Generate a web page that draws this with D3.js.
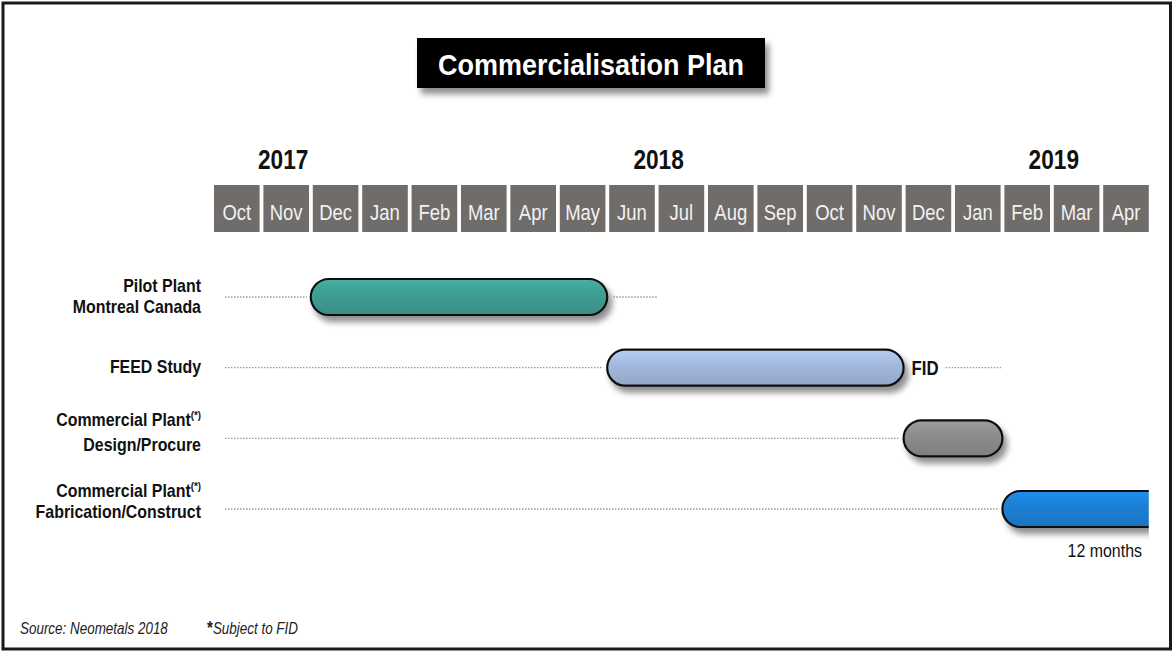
<!DOCTYPE html>
<html>
<head>
<meta charset="utf-8">
<script src="https://cdn.jsdelivr.net/npm/d3@7"></script>
<style>
  html, body { margin: 0; padding: 0; background: #fff; }
  svg { display: block; }
</style>
</head>
<body>
<svg id="chart" width="1174" height="652"></svg>
<script>
// ---------- data ----------
const months = ["Oct","Nov","Dec","Jan","Feb","Mar","Apr","May","Jun","Jul","Aug","Sep","Oct","Nov","Dec","Jan","Feb","Mar","Apr"];
const years = ["2017", "2018", "2019"];
const yearAt = [1.4, 9.0, 17.0];              // month index the year label sits over
const taskLines = [["Pilot Plant", "Montreal Canada"], ["FEED Study"], ["Commercial Plant|(*)", "Design/Procure"], ["Commercial Plant|(*)", "Fabrication/Construct"]];
const taskStart = [2, 8, 14, 16];              // month index (0 = Oct 2017)
const taskEnd   = [8, 14, 16, 28];             // 12 months for fabrication
const taskColors = ["#3f9e93", "#a4b9de", "#8d8d8d", "#1c80d6"];
const milestone = { label: "FID", task: 1 };
const durationNote = { label: "12 months", task: 3 };

// ---------- fonts ----------
function hasFont(name) {
  const c = document.createElement("canvas").getContext("2d");
  const s = "Commercialisation Fabrication 2018";
  c.font = "20px monospace"; const a = c.measureText(s).width;
  c.font = `20px "${name}", monospace`; const b = c.measureText(s).width;
  return Math.abs(a - b) > 0.5;
}
const narrow = hasFont("Liberation Sans Narrow");
const FONT = narrow ? '"Liberation Sans Narrow", "Arial Narrow", sans-serif' : '"Liberation Sans", Arial, sans-serif';
const SX = narrow ? 1 : 0.84;   // horizontal squeeze when no narrow face exists

const svg = d3.select("#chart");
const W = 1174, H = 652;

const defs = svg.append("defs");
const sh = defs.append("filter").attr("id", "shadow").attr("x", "-10%").attr("y", "-30%").attr("width", "130%").attr("height", "200%");
sh.append("feGaussianBlur").attr("in", "SourceAlpha").attr("stdDeviation", 3).attr("result", "b");
sh.append("feOffset").attr("in", "b").attr("dx", 4).attr("dy", 6).attr("result", "o");
sh.append("feComponentTransfer").attr("in", "o").attr("result", "o2")
  .append("feFuncA").attr("type", "linear").attr("slope", 0.45);
const m = sh.append("feMerge");
m.append("feMergeNode").attr("in", "o2");
m.append("feMergeNode").attr("in", "SourceGraphic");

taskColors.forEach((c, i) => {
  const g = defs.append("linearGradient").attr("id", "g" + i).attr("x1", 0).attr("x2", 0).attr("y1", 0).attr("y2", 1);
  g.append("stop").attr("offset", "0%").attr("stop-color", d3.color(c).brighter(0.3));
  g.append("stop").attr("offset", "40%").attr("stop-color", c);
  g.append("stop").attr("offset", "100%").attr("stop-color", d3.color(c).darker(0.3));
});

// ---------- scales ----------
const step = 49.4;
const x0 = 214;
const x = d3.scaleLinear().domain([0, months.length]).range([x0, x0 + months.length * step]);
const boxW = step - 3.8;
const clipRight = x(months.length - 1) + boxW;
const y = d3.scaleLinear().domain([0, 3]).range([297, 509]);
const barH = 36;

defs.append("clipPath").attr("id", "plotclip").append("rect")
  .attr("x", 0).attr("y", 0).attr("width", clipRight).attr("height", H);

// frame
svg.append("rect").attr("x", 3).attr("y", 3).attr("width", W - 6.5).attr("height", H - 6).attr("fill", "none")
  .attr("stroke", "#1a1a1a").attr("stroke-width", 3);

// title
const tg = svg.append("g");
tg.append("rect").attr("x", 417).attr("y", 38).attr("width", 348).attr("height", 50).attr("fill", "#000").attr("filter", "url(#shadow)");
tg.append("text").attr("x", 591).attr("y", 75).attr("text-anchor", "middle").attr("fill", "#fff")
  .attr("font-family", '"Liberation Sans", Arial, sans-serif').attr("font-weight", "bold").attr("font-size", 30)
  .attr("transform", `translate(591,0) scale(0.9,1) translate(-591,0)`)
  .text("Commercialisation Plan");

function sq(sel, ax, s = SX) { // apply horizontal squeeze around anchor x
  if (s !== 1) sel.attr("transform", `translate(${ax},0) scale(${s},1) translate(${-ax},0)`);
  return sel;
}

// years
years.forEach((yr, i) => {
  const cx = x(yearAt[i]);
  sq(svg.append("text").attr("x", cx).attr("y", 169).attr("text-anchor", "middle")
    .attr("font-family", FONT).attr("font-weight", "bold").attr("font-size", 27).attr("fill", "#111").text(yr), cx);
});

// month boxes
const mg = svg.append("g");
months.forEach((mo, i) => {
  mg.append("rect").attr("x", x(i)).attr("y", 185).attr("width", boxW).attr("height", 47).attr("fill", "#6f6c6a");
  const cx = x(i) + boxW / 2;
  sq(mg.append("text").attr("x", cx).attr("y", 220).attr("text-anchor", "middle")
    .attr("font-family", FONT).attr("font-size", 22).attr("fill", "#f2f2f2").text(mo), cx);
});

// boundary between months (center of gap)
const b = i => x(i) - 2;

// dotted guide lines
const dots = svg.append("g").attr("stroke", "#9a9a9a").attr("stroke-width", 1.3).attr("stroke-dasharray", "1.5,1.5");
taskStart.forEach((s, i) => {
  dots.append("line").attr("x1", 225).attr("x2", b(s) - 4).attr("y1", y(i)).attr("y2", y(i));
});
// after pilot bar
dots.append("line").attr("x1", b(taskEnd[0]) + 6).attr("x2", b(taskEnd[0]) + 50).attr("y1", y(0)).attr("y2", y(0));
// after FID
dots.append("line").attr("x1", b(taskEnd[1]) + 42).attr("x2", b(16)).attr("y1", y(1)).attr("y2", y(1));

// bars
const bars = svg.append("g").attr("clip-path", "url(#plotclip)");
taskStart.forEach((s, i) => {
  const x1 = b(s), x2 = b(taskEnd[i]);
  bars.append("rect").attr("x", x1).attr("y", y(i) - barH / 2).attr("width", x2 - x1).attr("height", barH)
    .attr("rx", barH / 2).attr("ry", barH / 2)
    .attr("fill", `url(#g${i})`).attr("stroke", "#111").attr("stroke-width", 2.2).attr("filter", "url(#shadow)");
});

// task labels
const lineOffsets = [[-5, 16], [5], [-12, 13], [-12, 9]];
const lab = svg.append("g");
taskLines.forEach((lines, i) => {
  lines.forEach((ln, j) => {
    const yy = y(i) + lineOffsets[i][j];
    const [main, sup] = ln.split("|");
    const t = lab.append("text").attr("x", 201).attr("y", yy).attr("text-anchor", "end")
      .attr("font-family", FONT).attr("font-weight", "bold").attr("font-size", 18).attr("fill", "#111");
    t.append("tspan").text(main);
    if (sup) t.append("tspan").attr("font-size", 11).attr("dy", -7).text(sup);
    sq(t, 201, narrow ? 1 : 0.885);
  });
});

// FID label
sq(svg.append("text").attr("x", b(taskEnd[milestone.task]) + 8).attr("y", y(milestone.task) + 7)
  .attr("font-family", FONT).attr("font-weight", "bold").attr("font-size", 20).attr("fill", "#111").text(milestone.label), b(taskEnd[milestone.task]) + 8);

// 12 months note
sq(svg.append("text").attr("x", 1142).attr("y", y(durationNote.task) + 48).attr("text-anchor", "end")
  .attr("font-family", FONT).attr("font-size", 19).attr("fill", "#111").text(durationNote.label), 1142);

// footer
sq(svg.append("text").attr("x", 20).attr("y", 634).attr("font-family", FONT).attr("font-style", "italic")
  .attr("font-size", 16).attr("fill", "#222").text("Source:  Neometals 2018"), 20);
const ft = svg.append("text").attr("x", 207).attr("y", 634).attr("font-family", FONT).attr("font-style", "italic")
  .attr("font-size", 16).attr("fill", "#222");
ft.append("tspan").attr("font-weight", "bold").attr("font-style", "normal").attr("font-size", 18).text("*");
ft.append("tspan").text("Subject to FID");
sq(ft, 207);
</script>
</body>
</html>
